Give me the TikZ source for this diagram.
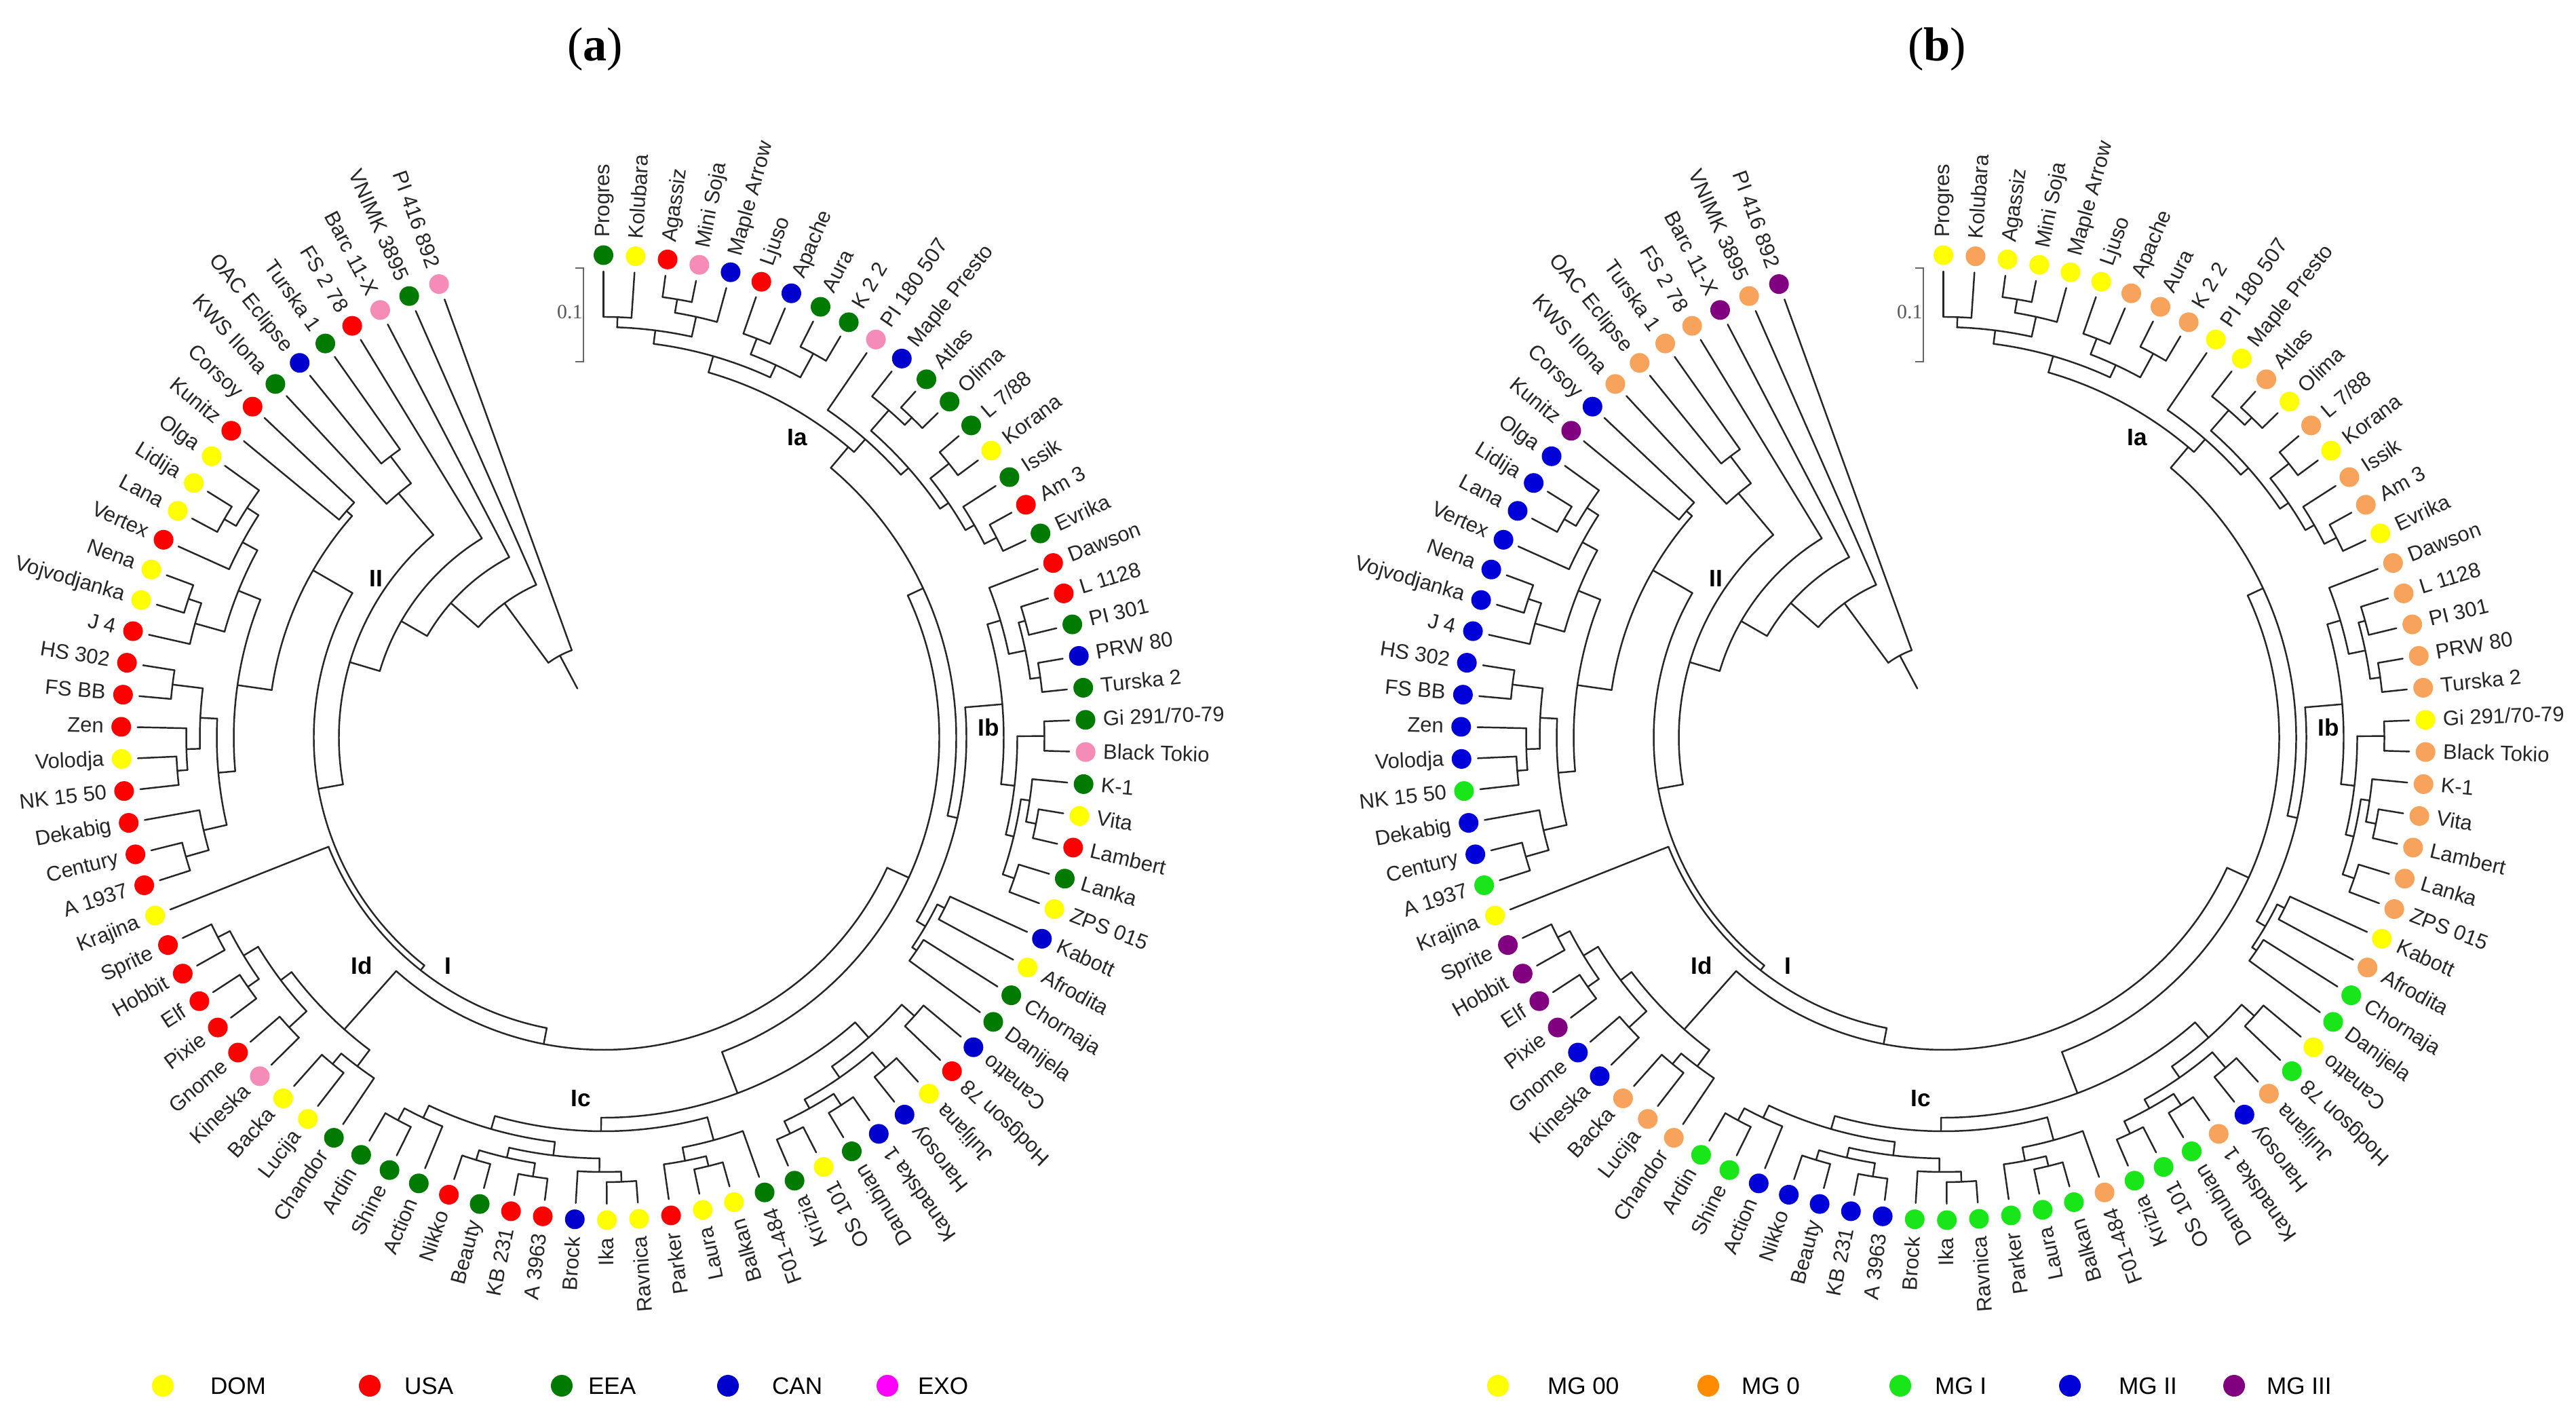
\documentclass[tikz,border=0pt]{standalone}
\usepackage{fontspec}
\setmainfont{Liberation Sans}
\newfontfamily\serifface{Liberation Serif}
\newcommand*{\leaffont}{\fontsize{8.8}{10}\selectfont}
\newcommand*{\cladefont}{\fontsize{10}{12}\selectfont\bfseries}
\newcommand*{\keyfont}{\fontsize{10}{12}\selectfont}
\definecolor{DOM}{HTML}{FFFF00}
\definecolor{USA}{HTML}{FF0000}
\definecolor{EEA}{HTML}{007A00}
\definecolor{CAN}{HTML}{0000CC}
\definecolor{EXO}{HTML}{F58CB8}
\definecolor{EXOkey}{HTML}{FF00FF}
\definecolor{MGzz}{HTML}{FFFF00}
\definecolor{MGz}{HTML}{F7A35C}
\definecolor{MGzkey}{HTML}{FF8C00}
\definecolor{MGi}{HTML}{19E619}
\definecolor{MGii}{HTML}{0000D9}
\definecolor{MGiii}{HTML}{800080}
\usepackage{tikz}
\usetikzlibrary{positioning}
\tikzstyle{base}=[inner sep=0pt, outer sep=0pt]
\tikzstyle{branch}=[black!85, line width=0.7pt, line cap=round]
\tikzstyle{leafdot}=[circle, inner sep=0pt, minimum size=0.29cm]
\tikzstyle{leaflabel}=[inner sep=0pt, text=black!85, font=\leaffont]
\tikzstyle{cladelabel}=[inner sep=0pt, font=\cladefont]
\tikzstyle{keydot}=[circle, inner sep=0pt, minimum size=0.32cm]
\tikzstyle{keytext}=[inner sep=0pt, anchor=west, font=\keyfont]

\newcommand{\cld}[5]{%
  \pgfmathsetmacro\cla{90-3.821*#1}%
  \pgfmathsetmacro\clb{90-3.821*#2}%
  \pgfmathsetmacro\cls{90-3.821*#3}%
  \draw[branch] (\cla:#4) arc[start angle=\cla, end angle=\clb, radius=#4];%
  \draw[branch] (\cls:#4) -- (\cls:#5);}
\newcommand{\tipln}[2]{%
  \pgfmathsetmacro\cla{90-3.821*#1}%
  \draw[branch] (\cla:6.87) -- (\cla:#2);}

\newcommand{\treebody}{%
  % Ia
  \cld{0}{1}{0.5}{6.20}{6.05} \tipln{0}{6.20} \tipln{1}{6.20}
  \cld{2}{3}{2.5}{6.55}{6.35} \tipln{2}{6.55} \tipln{3}{6.55}
  \cld{2.5}{4}{3.25}{6.35}{6.05} \tipln{4}{6.35}
  \cld{0.5}{3.25}{1.9}{6.05}{5.85}
  \cld{5}{6}{5.5}{6.30}{6.05} \tipln{5}{6.30} \tipln{6}{6.30}
  \cld{7}{8}{7.5}{6.45}{6.05} \tipln{7}{6.45} \tipln{8}{6.45}
  \cld{5.5}{7.5}{6.5}{6.05}{5.85}
  \cld{1.9}{6.5}{4.2}{5.85}{5.60}
  \cld{11}{12}{11.5}{6.55}{6.40} \tipln{11}{6.55} \tipln{12}{6.55}
  \cld{10}{11.5}{10.75}{6.40}{6.00} \tipln{10}{6.40}
  \cld{13}{14}{13.5}{6.50}{6.15} \tipln{13}{6.50} \tipln{14}{6.50}
  \cld{16}{17}{16.5}{6.50}{6.30} \tipln{16}{6.50} \tipln{17}{6.50}
  \cld{15}{16.5}{15.75}{6.30}{6.15} \tipln{15}{6.30}
  \cld{13.5}{15.75}{14.6}{6.15}{6.00}
  \cld{10.75}{14.6}{12.7}{6.00}{5.85}
  \cld{9}{12.7}{10.8}{5.85}{5.60} \tipln{9}{5.85}
  \cld{4.2}{10.8}{10.5}{5.60}{5.20}
  % Ib
  \cld{19}{20}{19.5}{6.45}{6.35} \tipln{19}{6.45} \tipln{20}{6.45}
  \cld{21}{22}{21.5}{6.50}{6.35} \tipln{21}{6.50} \tipln{22}{6.50}
  \cld{19.5}{21.5}{20.5}{6.35}{6.10}
  \cld{18}{20.5}{19.25}{6.10}{5.90} \tipln{18}{6.10}
  \cld{23}{24}{23.5}{6.50}{6.10} \tipln{23}{6.50} \tipln{24}{6.50}
  \cld{26}{27}{26.5}{6.50}{6.35} \tipln{26}{6.50} \tipln{27}{6.50}
  \cld{25}{26.5}{25.75}{6.35}{6.22} \tipln{25}{6.35}
  \cld{28}{29}{28.5}{6.40}{6.22} \tipln{28}{6.40} \tipln{29}{6.40}
  \cld{25.75}{28.5}{27.1}{6.22}{6.10}
  \cld{23.5}{27.1}{25.3}{6.10}{5.90}
  \cld{19.25}{25.3}{22.3}{5.90}{5.35}
  \cld{30}{31}{30.5}{5.62}{5.50} \tipln{30}{5.62} \tipln{31}{5.62}
  \cld{32}{33}{32.5}{5.58}{5.50} \tipln{32}{5.58} \tipln{33}{5.58}
  \cld{30.5}{32.5}{31.5}{5.50}{5.35}
  \cld{22.3}{31.5}{26.9}{5.35}{5.20}
  \cld{10.5}{26.9}{17}{5.20}{4.95}
  % Ic
  \cld{34}{35}{34.5}{6.15}{5.90} \tipln{34}{6.15} \tipln{35}{6.15}
  \cld{36}{37}{36.5}{6.40}{6.10} \tipln{36}{6.40} \tipln{37}{6.40}
  \cld{38}{39}{38.5}{6.45}{6.25} \tipln{38}{6.45} \tipln{39}{6.45}
  \cld{40}{41}{40.5}{6.45}{6.25} \tipln{40}{6.45} \tipln{41}{6.45}
  \cld{38.5}{40.5}{39.5}{6.25}{6.10}
  \cld{36.5}{39.5}{38}{6.10}{5.90}
  \cld{34.5}{38}{36.25}{5.90}{5.60}
  \cld{43}{44}{43.5}{6.50}{6.35} \tipln{43}{6.50} \tipln{44}{6.50}
  \cld{43.5}{45}{44.25}{6.35}{6.15} \tipln{45}{6.35}
  \cld{42}{44.25}{43.1}{6.15}{5.80} \tipln{42}{6.15}
  \cld{46}{47}{46.5}{6.55}{6.40} \tipln{46}{6.55} \tipln{47}{6.55}
  \cld{46.5}{48}{47.25}{6.40}{6.20} \tipln{48}{6.40}
  \cld{49}{50}{49.5}{6.55}{6.35} \tipln{49}{6.55} \tipln{50}{6.55}
  \cld{51}{52}{51.5}{6.50}{6.35} \tipln{51}{6.50} \tipln{52}{6.50}
  \cld{49.5}{51.5}{50.5}{6.35}{6.20}
  \cld{47.25}{50.5}{48.9}{6.20}{6.00}
  \cld{54}{55}{54.5}{6.40}{6.20} \tipln{54}{6.40} \tipln{55}{6.40}
  \cld{53}{54.5}{53.75}{6.20}{6.00} \tipln{53}{6.20}
  \cld{48.9}{53.75}{51.3}{6.00}{5.80}
  \cld{43.1}{51.3}{47.2}{5.80}{5.60}
  \cld{36.25}{47.2}{41.7}{5.60}{4.95}
  \cld{17}{41.7}{30}{4.95}{4.60}
  % Id
  \cld{63}{64}{63.5}{6.40}{6.20} \tipln{63}{6.40} \tipln{64}{6.40}
  \cld{61}{62}{61.5}{6.40}{6.20} \tipln{61}{6.40} \tipln{62}{6.40}
  \cld{61.5}{63.5}{62.5}{6.20}{5.95}
  \cld{59}{60}{59.5}{6.30}{5.95} \tipln{59}{6.30} \tipln{60}{6.30}
  \cld{59.5}{62.5}{61}{5.95}{5.75}
  \cld{57}{58}{57.5}{6.25}{6.05} \tipln{57}{6.25} \tipln{58}{6.25}
  \cld{56}{57.5}{56.75}{6.05}{5.75} \tipln{56}{6.05}
  \cld{56.75}{61}{58}{5.75}{4.60}
  \cld{30}{58}{50}{4.60}{4.36}
  \cld{50}{65}{57.1}{4.36}{4.27} \tipln{65}{4.36}
  % II
  \cld{72}{73}{72.5}{6.40}{5.95} \tipln{72}{6.40} \tipln{73}{6.40}
  \cld{69}{70}{69.5}{6.30}{6.15} \tipln{69}{6.30} \tipln{70}{6.30}
  \cld{69.5}{71}{70.25}{6.15}{5.95} \tipln{71}{6.15}
  \cld{70.25}{72.5}{71.4}{5.95}{5.70}
  \cld{66}{67}{66.5}{6.40}{6.05} \tipln{66}{6.40} \tipln{67}{6.40}
  \cld{66.5}{68}{67.25}{6.05}{5.70} \tipln{68}{6.05}
  \cld{67.25}{71.4}{69.3}{5.70}{5.45}
  \cld{75}{76}{75.5}{6.45}{6.25} \tipln{75}{6.45} \tipln{76}{6.45}
  \cld{74}{75.5}{74.75}{6.25}{5.80} \tipln{74}{6.25}
  \cld{78}{79}{78.5}{6.45}{6.25} \tipln{78}{6.45} \tipln{79}{6.45}
  \cld{78.5}{80}{79.25}{6.25}{6.05} \tipln{80}{6.25}
  \cld{77}{79.25}{78.1}{6.05}{5.80} \tipln{77}{6.05}
  \cld{74.75}{78.1}{76.4}{5.80}{5.45}
  \cld{69.3}{76.4}{72.8}{5.45}{4.94}
  \cld{81}{82}{81.5}{5.05}{4.94} \tipln{81}{5.05} \tipln{82}{5.05}
  \cld{72.8}{81.5}{78.5}{4.94}{4.27}
  \cld{57.1}{78.5}{68}{4.27}{3.90}
  % top left
  \cld{84}{85}{84.5}{5.20}{4.70} \tipln{84}{5.20} \tipln{85}{5.20}
  \cld{83}{84.5}{83.75}{4.70}{3.90} \tipln{83}{4.70}
  \cld{68}{83.75}{75}{3.90}{3.44}
  \cld{75}{86}{78.5}{3.44}{3.00} \tipln{86}{3.44}
  \cld{78.5}{87}{81.5}{3.00}{2.46} \tipln{87}{3.00}
  \cld{81.5}{88}{84.7}{2.46}{1.37} \tipln{88}{2.46}
  \cld{84.7}{89}{86.9}{1.37}{0.82} \tipln{89}{1.37}
  % scale bar
  \draw[black!60, line width=0.8pt] (-0.415,6.92) -- (-0.295,6.92) -- (-0.295,5.54) -- (-0.415,5.54);
  \node[base, anchor=east, text=black!65, font=\serifface\fontsize{8.5}{10}\selectfont] at (-0.31,6.27) {0.1};
  % clade names
  \node[cladelabel] at (2.855,4.42) {Ia};
  \node[cladelabel] at (5.675,0.15) {Ib};
  \node[cladelabel] at (-0.335,-5.32) {Ic};
  \node[cladelabel] at (-3.565,-3.36) {Id};
  \node[cladelabel] at (-2.295,-3.36) {I};
  \node[cladelabel] at (-3.355,2.35) {II};
}

\begin{document}
\begin{tikzpicture}[base]
    \fill[white] (0,0) rectangle (37.97,-20.91);
    \path[use as bounding box] (0,0) rectangle (37.97,-20.91);
    \coordinate (Oa) at (8.895,-10.87);
    \coordinate (Ob) at (28.645,-10.87);

    \node[font=\serifface\fontsize{20}{24}\selectfont] (title-a) at (8.77,-0.73) {(\textbf{a})};
    \node[font=\serifface\fontsize{20}{24}\selectfont] (title-b) at (28.55,-0.73) {(\textbf{b})};

    \begin{scope}[shift={(8.895,-10.87)}]
        \treebody
    \end{scope}
    \begin{scope}[shift={(28.645,-10.87)}]
        \treebody
    \end{scope}

    \foreach \nm/\ca/\cb [count=\i from 0] in {Progres/EEA/MGzz, Kolubara/DOM/MGz, Agassiz/USA/MGzz, Mini Soja/EXO/MGzz, Maple Arrow/CAN/MGzz, Ljuso/USA/MGzz, Apache/CAN/MGz, Aura/EEA/MGz, K 2 2/EEA/MGz, PI 180 507/EXO/MGzz, Maple Presto/CAN/MGzz, Atlas/EEA/MGz, Olima/EEA/MGzz, {L 7/88}/EEA/MGz, Korana/DOM/MGzz, Issik/EEA/MGz, Am 3/USA/MGz, Evrika/EEA/MGzz, Dawson/USA/MGz, L 1128/USA/MGz, PI 301/EEA/MGz, PRW 80/CAN/MGz, Turska 2/EEA/MGz, {Gi 291/70-79}/EEA/MGzz, Black Tokio/EXO/MGz, K-1/EEA/MGz, Vita/DOM/MGz, Lambert/USA/MGz, Lanka/EEA/MGz, ZPS 015/DOM/MGz, Kabott/CAN/MGzz, Afrodita/DOM/MGz, Chornaja/EEA/MGi, Danijela/EEA/MGi, Canatto/CAN/MGzz, Hodgson 78/USA/MGi, Julijana/DOM/MGz, Harosoy/CAN/MGii, Kanadska 1/CAN/MGz, Danubian/EEA/MGi, OS 101/DOM/MGi, Krizia/EEA/MGi, F01-484/EEA/MGz, Balkan/DOM/MGi, Laura/DOM/MGi, Parker/USA/MGi, Ravnica/DOM/MGi, Ika/DOM/MGi, Brock/CAN/MGi, A 3963/USA/MGii, KB 231/USA/MGii, Beauty/EEA/MGii, Nikko/USA/MGii, Action/EEA/MGii, Shine/EEA/MGi, Ardin/EEA/MGi, Chandor/EEA/MGz, Lucija/DOM/MGz, Backa/DOM/MGz, Kineska/EXO/MGii, Gnome/USA/MGii, Pixie/USA/MGiii, Elf/USA/MGiii, Hobbit/USA/MGiii, Sprite/USA/MGiii, Krajina/DOM/MGzz, A 1937/USA/MGi, Century/USA/MGii, Dekabig/USA/MGii, NK 15 50/USA/MGi, Volodja/DOM/MGii, Zen/USA/MGii, FS BB/USA/MGii, HS 302/USA/MGii, J 4/USA/MGii, Vojvodjanka/DOM/MGii, Nena/DOM/MGii, Vertex/USA/MGii, Lana/DOM/MGii, Lidija/DOM/MGii, Olga/DOM/MGii, Kunitz/USA/MGiii, Corsoy/USA/MGii, KWS Ilona/EEA/MGz, OAC Eclipse/CAN/MGz, Turska 1/EEA/MGz, FS 2 78/USA/MGz, Barc 11-X/EXO/MGiii, VNIMK 3895/EEA/MGz, PI 416 892/EXO/MGiii} {
        \pgfmathsetmacro\tha{90-3.821*\i}
        \ifnum\i<34
            \pgfmathsetmacro\lrot{\tha}\def\lanc{mid west}
        \else
            \pgfmathsetmacro\lrot{\tha+180}\def\lanc{mid east}
        \fi
        \path (Oa) ++(\tha:7.11) node[leafdot, fill=\ca] (da-\i) {};
        \path (Ob) ++(\tha:7.11) node[leafdot, fill=\cb] (db-\i) {};
        \path (Oa) ++(\tha:7.37) node[leaflabel, rotate=\lrot, anchor=\lanc] (la-\i) {\nm};
        \path (Ob) ++(\tha:7.37) node[leaflabel, rotate=\lrot, anchor=\lanc] (lb-\i) {\nm};
    }

    \node[keydot, fill=DOM] (k-dom) at (2.40,-20.42) {};
    \node[keytext] (t-dom) at (3.10,-20.42) {DOM};
    \node[keydot, fill=USA] (k-usa) at (5.45,-20.42) {};
    \node[keytext] (t-usa) at (5.96,-20.42) {USA};
    \node[keydot, fill=EEA] (k-eea) at (8.28,-20.42) {};
    \node[keytext] (t-eea) at (8.67,-20.42) {EEA};
    \node[keydot, fill=CAN] (k-can) at (10.73,-20.42) {};
    \node[keytext] (t-can) at (11.38,-20.42) {CAN};
    \node[keydot, fill=EXOkey] (k-exo) at (13.08,-20.42) {};
    \node[keytext] (t-exo) at (13.53,-20.42) {EXO};

    \node[keydot, fill=MGzz] (k-mgzz) at (22.08,-20.42) {};
    \node[keytext] (t-mgzz) at (22.81,-20.42) {MG 00};
    \node[keydot, fill=MGzkey] (k-mgz) at (25.18,-20.42) {};
    \node[keytext] (t-mgz) at (25.67,-20.42) {MG 0};
    \node[keydot, fill=MGi] (k-mgi) at (28.01,-20.42) {};
    \node[keytext] (t-mgi) at (28.52,-20.42) {MG I};
    \node[keydot, fill=MGii] (k-mgii) at (30.51,-20.42) {};
    \node[keytext] (t-mgii) at (31.23,-20.42) {MG II};
    \node[keydot, fill=MGiii] (k-mgiii) at (32.93,-20.42) {};
    \node[keytext] (t-mgiii) at (33.41,-20.42) {MG III};
\end{tikzpicture}
\end{document}
